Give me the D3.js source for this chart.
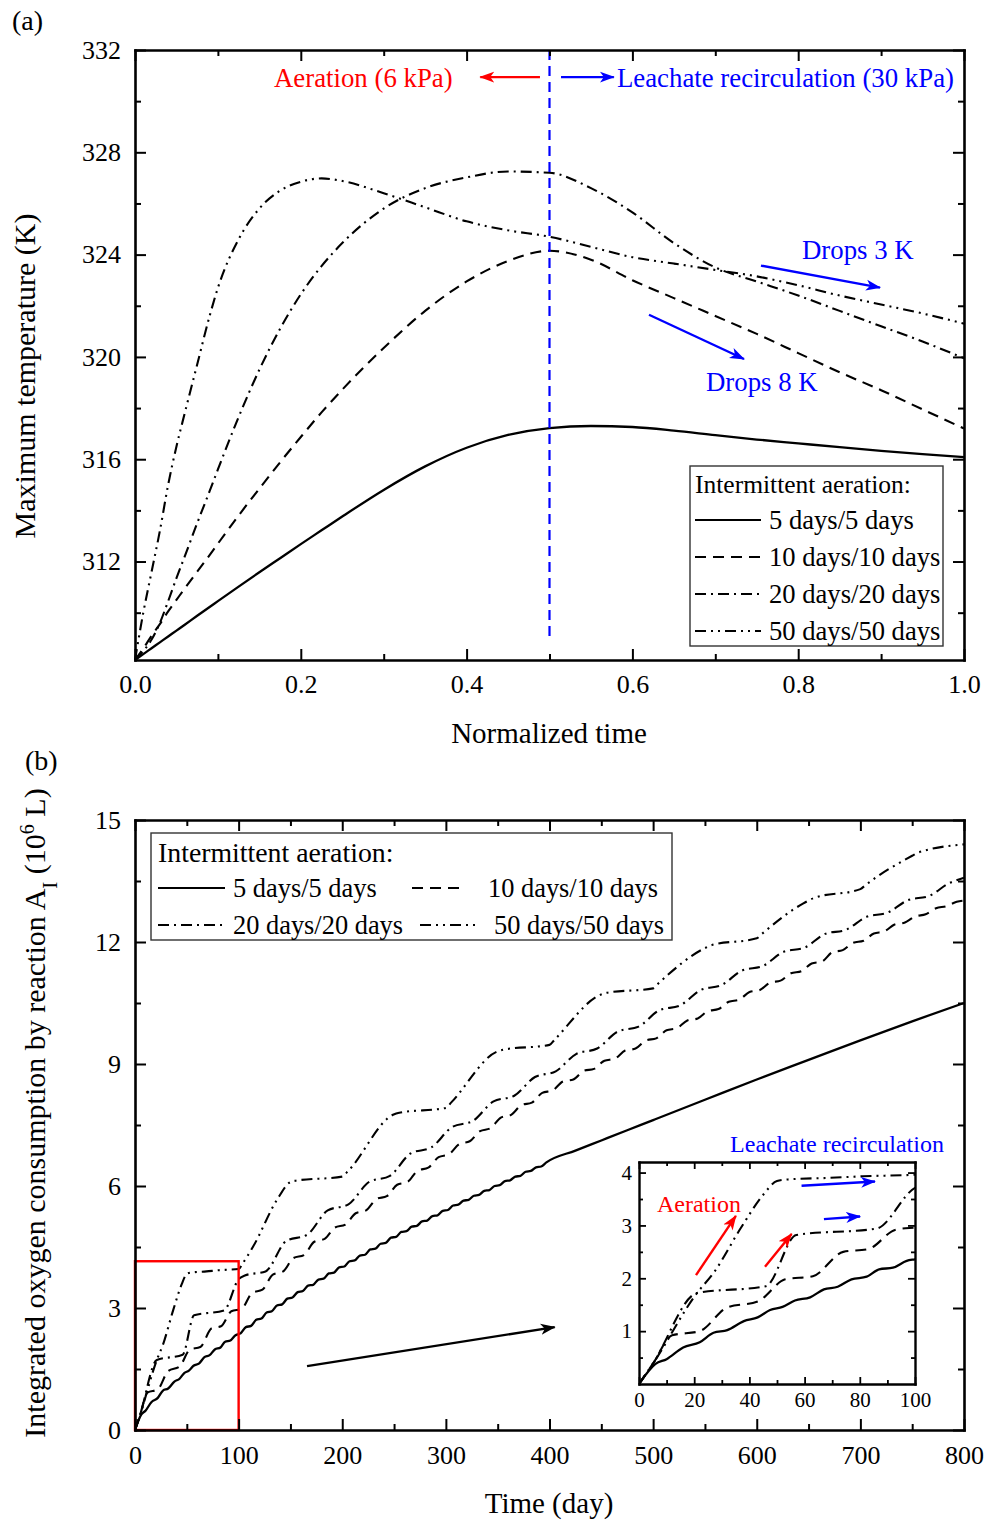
<!DOCTYPE html>
<html>
<head>
<meta charset="utf-8">
<script src="https://cdn.jsdelivr.net/npm/d3@7"></script>
<style>
body { margin: 0; background: #fff; }
svg text { font-family: "Liberation Serif", "Times New Roman", serif; }
</style>
</head>
<body>
<div id="chart-area"></div>
<script>
// ---- panel (a): maximum temperature vs normalized time ----
const normTime = [0, 0.01, 0.02, 0.03, 0.04, 0.05, 0.06, 0.075, 0.09, 0.1, 0.125, 0.15, 0.175, 0.2, 0.225, 0.25,
                  0.3, 0.35, 0.4, 0.45, 0.5, 0.55, 0.6, 0.65, 0.7, 0.75, 0.8, 0.85, 0.9, 0.95, 1.0];
const temp5  = [308.15, 308.38, 308.61, 308.84, 309.07, 309.3, 309.53, 309.88, 310.22, 310.45, 311.02, 311.58, 312.13, 312.68, 313.22, 313.76,
                314.8, 315.72, 316.45, 316.95, 317.22, 317.3, 317.26, 317.12, 316.94, 316.77, 316.62, 316.47, 316.33, 316.2, 316.08];
const temp10 = [308.15, 308.6, 309.1, 309.55, 310.05, 310.5, 310.95, 311.6, 312.25, 312.7, 313.8, 314.85, 315.88, 316.87, 317.83, 318.72,
                320.35, 321.8, 322.95, 323.75, 324.15, 323.8, 323.0, 322.3, 321.6, 320.9, 320.15, 319.4, 318.7, 317.95, 317.2];
const temp20 = [308.15, 308.5, 308.95, 309.6, 310.45, 311.35, 312.2, 313.5, 314.75, 315.6, 317.65, 319.5, 321.1, 322.45, 323.55, 324.45,
                325.8, 326.6, 327.02, 327.25, 327.2, 326.6, 325.65, 324.45, 323.5, 322.95, 322.4, 321.8, 321.2, 320.6, 319.95];
const temp50 = [308.15, 310.0, 311.6, 313.2, 315.0, 316.5, 317.8, 319.7, 321.6, 322.7, 324.6, 325.8, 326.5, 326.85, 326.98, 326.88,
                326.4, 325.85, 325.3, 324.95, 324.7, 324.3, 323.9, 323.65, 323.4, 323.15, 322.8, 322.4, 322.05, 321.7, 321.3];
const normTicks = [0, 0.2, 0.4, 0.6, 0.8, 1.0];
const normMinor = [0.1, 0.3, 0.5, 0.7, 0.9];
const tempTicks = [312, 316, 320, 324, 328, 332];
const tempMinor = [310, 314, 318, 322, 326, 330];

// ---- panel (b): integrated oxygen consumption vs time ----
const days5 = [0, 6, 10, 16, 22, 27, 32, 38, 43, 47.5, 52, 56.5, 62, 67, 72, 77, 82.5, 87, 92, 97, 100,
               102, 107, 112, 117, 122, 127, 132, 137, 142, 147, 152, 157, 162, 167, 172, 177, 182, 187, 192, 197,
               202, 207, 212, 217, 222, 227, 232, 237, 242, 247, 252, 257, 262, 267, 272, 277, 282, 287, 292, 297,
               302, 307, 312, 317, 322, 327, 332, 337, 342, 347, 352, 357, 362, 367, 372, 377, 382, 387, 392, 397,
               425, 450, 475, 500, 550, 600, 650, 700, 750, 800];
const oxy5  = [0, 0.38, 0.47, 0.69, 0.79, 0.97, 1.02, 1.19, 1.26, 1.4, 1.46, 1.58, 1.64, 1.79, 1.84, 1.98, 2.03, 2.17, 2.2, 2.33, 2.36,
               2.38, 2.53, 2.56, 2.71, 2.74, 2.89, 2.92, 3.06, 3.09, 3.23, 3.26, 3.39, 3.42, 3.55, 3.57, 3.7, 3.72, 3.85, 3.87, 4.0,
               4.02, 4.15, 4.17, 4.29, 4.31, 4.44, 4.46, 4.58, 4.6, 4.73, 4.75, 4.87, 4.89, 5.0, 5.02, 5.13, 5.15, 5.26, 5.28, 5.39,
               5.41, 5.52, 5.54, 5.64, 5.66, 5.76, 5.78, 5.88, 5.9, 6.0, 6.02, 6.12, 6.14, 6.23, 6.25, 6.35, 6.37, 6.46, 6.48, 6.58,
               6.87, 7.12, 7.37, 7.62, 8.12, 8.62, 9.1, 9.58, 10.05, 10.5];
const days10 = [0, 5, 12, 22, 32, 43, 53, 63, 74, 83, 93,
                103, 113, 123, 133, 143, 153, 163, 173, 183, 193, 203, 213, 223, 233, 243, 253, 263, 273, 283, 293,
                303, 313, 323, 333, 343, 353, 363, 373, 383, 393, 403, 413, 423, 433, 443, 453, 463, 473, 483, 493,
                503, 513, 523, 533, 543, 553, 563, 573, 583, 593, 603, 613, 623, 633, 643, 653, 663, 673, 683, 693,
                703, 713, 723, 733, 743, 753, 763, 773, 783, 793, 800];
const oxy10  = [0, 0.38, 0.92, 1.0, 1.45, 1.56, 1.98, 2.04, 2.5, 2.55, 2.92,
                2.98, 3.37, 3.45, 3.82, 3.9, 4.23, 4.3, 4.63, 4.7, 4.98, 5.05, 5.33, 5.4, 5.68, 5.75, 6.03, 6.1, 6.38, 6.45, 6.71,
                6.78, 7.03, 7.1, 7.35, 7.42, 7.68, 7.75, 7.99, 8.05, 8.29, 8.35, 8.57, 8.62, 8.83, 8.88, 9.08, 9.13, 9.33, 9.38, 9.58,
                9.63, 9.83, 9.88, 10.07, 10.12, 10.3, 10.35, 10.53, 10.58, 10.77, 10.82, 11.0, 11.05, 11.23, 11.28, 11.47, 11.52, 11.75, 11.8, 11.98,
                12.03, 12.21, 12.26, 12.43, 12.48, 12.63, 12.68, 12.83, 12.88, 12.99, 13.02];
const days20 = [0, 5, 21, 46, 57, 86, 100, 106, 126, 146, 166, 186, 206, 226, 246, 266, 286, 306, 326, 346, 366,
                386, 406, 426, 446, 466, 486, 506, 526, 546, 566, 586, 606, 626, 646, 666, 686, 706, 726, 746, 766, 786, 800];
const oxy20  = [0, 0.38, 1.72, 1.85, 2.82, 2.94, 3.71, 3.8, 3.9, 4.65, 4.8, 5.4, 5.55, 6.1, 6.25, 6.8, 6.95, 7.45, 7.6, 8.08, 8.22,
                8.68, 8.82, 9.25, 9.38, 9.8, 9.92, 10.32, 10.44, 10.82, 10.94, 11.3, 11.41, 11.76, 11.86, 12.2, 12.3, 12.62, 12.72, 13.03, 13.13, 13.45, 13.58];
const days50 = [0, 5, 21, 27, 37, 45, 50, 54, 69, 81, 100, 104, 114, 137, 150, 155, 200, 205, 249, 255, 300,
                305, 349, 355, 400, 405, 449, 455, 500, 505, 550, 556, 600, 605, 645, 655, 700, 705, 750, 756, 800];
const oxy50  = [0, 0.38, 1.72, 2.1, 2.96, 3.58, 3.84, 3.87, 3.9, 3.93, 3.96, 4.1, 4.51, 5.66, 6.1, 6.13, 6.23, 6.35, 7.75, 7.8, 7.92,
                8.05, 9.3, 9.35, 9.47, 9.6, 10.7, 10.75, 10.86, 10.98, 11.85, 11.92, 12.09, 12.2, 12.95, 13.08, 13.3, 13.4, 14.12, 14.2, 14.4];
const dayTicks = [0, 100, 200, 300, 400, 500, 600, 700, 800];
const dayMinor = [50, 150, 250, 350, 450, 550, 650, 750];
const oxyTicks = [0, 3, 6, 9, 12, 15];
const oxyMinor = [1.5, 4.5, 7.5, 10.5, 13.5];
const insetDayTicks = [0, 20, 40, 60, 80, 100];
const insetDayMinor = [10, 30, 50, 70, 90];
const insetOxyTicks = [1, 2, 3, 4];
const insetOxyMinor = [0.5, 1.5, 2.5, 3.5];
const zoomBox = [100, 4.15];   // days, 10^6 L

const seriesNames = ["5 days/5 days", "10 days/10 days", "20 days/20 days", "50 days/50 days"];
const dashes = [null, "11,7", "11,5,2,5", "11,5,2,5,2,5"];

const W = 829, H = 610;
const serif = "'Liberation Serif', 'Times New Roman', serif";

const svg = d3.select("#chart-area").append("svg")
    .attr("width", 999).attr("height", 1520);

// arrow heads
const defs = svg.append("defs");
[["red", "#ff0000"], ["blue", "#0000ff"], ["black", "#000"]].forEach(([id, c]) => {
    defs.append("marker")
        .attr("id", "arrow-" + id)
        .attr("markerUnits", "userSpaceOnUse")
        .attr("markerWidth", 16).attr("markerHeight", 12)
        .attr("refX", 14).attr("refY", 6)
        .attr("orient", "auto")
      .append("path")
        .attr("d", "M0,0.5 L15,6 L0,11.5 L4,6 Z")
        .attr("fill", c);
});

function drawFrame(g, x, y, o) {
    const w = x.range()[1], h = y.range()[0];
    const sides = [
        [d3.axisBottom, "translate(0," + h + ")", x, o.xMajor, o.xMinor, o.xFmt, o.xPad],
        [d3.axisTop, "translate(0,0)", x, o.xMajor, o.xMinor, null, 0],
        [d3.axisLeft, "translate(0,0)", y, o.yMajor, o.yMinor, o.yFmt, o.yPad],
        [d3.axisRight, "translate(" + w + ",0)", y, o.yMajor, o.yMinor, null, 0]
    ];
    sides.forEach(([mk, tr, sc, major, minor, fmt, pad]) => {
        g.append("g")
            .attr("transform", tr)
            .call(mk(sc).tickValues(minor).tickSize(-o.minorLen).tickFormat(""))
            .call(a => a.select(".domain").remove())
            .selectAll(".tick line").attr("stroke-width", o.tickW);
        const ax = g.append("g")
            .attr("transform", tr)
            .call(mk(sc).tickValues(major).tickSizeInner(-o.majorLen).tickSizeOuter(0)
                .tickPadding(pad).tickFormat(fmt || ""));
        ax.attr("font-size", o.fs).attr("font-family", serif);
        ax.selectAll("text").style("font-size", o.fs + "px");
        ax.selectAll(".tick line").attr("stroke-width", o.tickW);
        ax.select(".domain").attr("stroke-width", o.domW).attr("stroke-linecap", "square");
    });
}

// ================= panel (a) =================
const gA = svg.append("g").attr("transform", "translate(135,50)");
const xA = d3.scaleLinear().domain([0, 1]).range([0, W]);
const yA = d3.scaleLinear().domain([308.15, 332]).range([H, 0]);

const lineA = d3.line()
    .x(d => xA(d[0]))
    .y(d => yA(d[1]))
    .curve(d3.curveMonotoneX);

[temp5, temp10, temp20, temp50].forEach((s, i) => {
    gA.append("path")
        .datum(d3.zip(normTime, s))
        .attr("d", lineA)
        .attr("fill", "none")
        .attr("stroke", "#000")
        .attr("stroke-width", i == 0 ? 2.3 : 2.1)
        .attr("stroke-dasharray", dashes[i]);
});

// switch from aeration to leachate recirculation
gA.append("line")
    .attr("x1", xA(0.5)).attr("x2", xA(0.5))
    .attr("y1", yA(332)).attr("y2", yA(308.9))
    .attr("stroke", "#0000ff")
    .attr("stroke-width", 2.2)
    .attr("stroke-dasharray", "10,6");

function arrow(g, x, y, p1, p2, color, sw) {
    g.append("line")
        .attr("x1", x(p1[0])).attr("y1", y(p1[1]))
        .attr("x2", x(p2[0])).attr("y2", y(p2[1]))
        .attr("stroke", color == "red" ? "#ff0000" : color == "blue" ? "#0000ff" : "#000")
        .attr("stroke-width", sw || 2.4)
        .attr("marker-end", "url(#arrow-" + color + ")");
}
function label(g, x, y, p, txt, color, fs) {
    g.append("text")
        .attr("x", x(p[0])).attr("y", y(p[1]))
        .attr("fill", color)
        .attr("font-size", fs + "px")
        .text(txt);
}

label(gA, xA, yA, [0.1677, 330.55], "Aeration (6 kPa)", "#ff0000", 26.8);
label(gA, xA, yA, [0.5814, 330.55], "Leachate recirculation (30 kPa)", "#0000ff", 26.8);
label(gA, xA, yA, [0.8046, 323.84], "Drops 3 K", "#0000ff", 26.8);
label(gA, xA, yA, [0.6888, 318.67], "Drops 8 K", "#0000ff", 26.8);
arrow(gA, xA, yA, [0.4885, 330.94], [0.4165, 330.94], "red");
arrow(gA, xA, yA, [0.5139, 330.94], [0.5776, 330.94], "blue");
arrow(gA, xA, yA, [0.7551, 323.57], [0.8987, 322.71], "blue");
arrow(gA, xA, yA, [0.62, 321.65], [0.7346, 319.92], "blue");

drawFrame(gA, xA, yA, {
    xMajor: normTicks, xMinor: normMinor, yMajor: tempTicks, yMinor: tempMinor,
    xFmt: d3.format(".1f"), yFmt: d3.format("d"),
    xPad: 15, yPad: 14, majorLen: 11, minorLen: 6, fs: 26, tickW: 2, domW: 2.6
});

// legend (a)
const legA = svg.append("g");
legA.append("rect")
    .attr("x", 690).attr("y", 466).attr("width", 253).attr("height", 180)
    .attr("fill", "#fff").attr("stroke", "#333").attr("stroke-width", 1.4);
legA.append("text").attr("x", 695).attr("y", 493).attr("font-size", "25.5px").text("Intermittent aeration:");
seriesNames.forEach((n, i) => {
    const yy = 529 + i * 37;
    legA.append("line")
        .attr("x1", 695).attr("x2", 761).attr("y1", yy - 9).attr("y2", yy - 9)
        .attr("stroke", "#000").attr("stroke-width", 2.2)
        .attr("stroke-dasharray", dashes[i]);
    legA.append("text").attr("x", 769).attr("y", yy).attr("font-size", "26.6px").text(n);
});

svg.append("text").attr("x", 549).attr("y", 743)
    .attr("text-anchor", "middle").attr("font-size", "29px").text("Normalized time");
svg.append("text")
    .attr("transform", "rotate(-90)")
    .attr("x", -376).attr("y", 35)
    .attr("text-anchor", "middle").attr("font-size", "30px")
    .text("Maximum temperature (K)");
svg.append("text").attr("x", 12).attr("y", 30).attr("font-size", "28px").text("(a)");

// ================= panel (b) =================
const gB = svg.append("g").attr("transform", "translate(135,820)");
const xB = d3.scaleLinear().domain([0, 800]).range([0, W]);
const yB = d3.scaleLinear().domain([0, 15]).range([H, 0]);

const oxySeries = [[days5, oxy5], [days10, oxy10], [days20, oxy20], [days50, oxy50]];

function drawSeries(g, x, y) {
    const line = d3.line()
        .x(d => x(d[0]))
        .y(d => y(d[1]))
        .curve(d3.curveMonotoneX);
    oxySeries.forEach(([t, v], i) => {
        g.append("path")
            .datum(d3.zip(t, v))
            .attr("d", line)
            .attr("fill", "none")
            .attr("stroke", "#000")
            .attr("stroke-width", i == 0 ? 2.3 : 2.1)
            .attr("stroke-dasharray", dashes[i]);
    });
}
drawSeries(gB, xB, yB);

// zoom window
gB.append("rect")
    .attr("x", xB(0)).attr("y", yB(zoomBox[1]))
    .attr("width", xB(zoomBox[0]) - xB(0))
    .attr("height", yB(0) - yB(zoomBox[1]))
    .attr("fill", "none").attr("stroke", "#ff0000").attr("stroke-width", 2.4);

arrow(gB, xB, yB, [166, 1.57], [405, 2.53], "black", 2.4);

drawFrame(gB, xB, yB, {
    xMajor: dayTicks, xMinor: dayMinor, yMajor: oxyTicks, yMinor: oxyMinor,
    xFmt: d3.format("d"), yFmt: d3.format("d"),
    xPad: 16, yPad: 14, majorLen: 11, minorLen: 6, fs: 26, tickW: 2, domW: 2.6
});

// legend (b)
const legB = svg.append("g");
legB.append("rect")
    .attr("x", 151).attr("y", 833).attr("width", 521).attr("height", 107)
    .attr("fill", "#fff").attr("stroke", "#333").attr("stroke-width", 1.4);
legB.append("text").attr("x", 158).attr("y", 862).attr("font-size", "27.8px").text("Intermittent aeration:");
const legBpos = [[158, 225, 233, 897], [412, 466, 488, 897], [158, 225, 233, 934], [420, 478, 494, 934]];
seriesNames.forEach((n, i) => {
    const [l1, l2, tx, yy] = legBpos[i];
    legB.append("line")
        .attr("x1", l1).attr("x2", l2).attr("y1", yy - 9).attr("y2", yy - 9)
        .attr("stroke", "#000").attr("stroke-width", 2.2)
        .attr("stroke-dasharray", dashes[i]);
    legB.append("text").attr("x", tx).attr("y", yy).attr("font-size", "26.4px").text(n);
});

svg.append("text").attr("x", 549).attr("y", 1513)
    .attr("text-anchor", "middle").attr("font-size", "29px").text("Time (day)");
const yTitleB = svg.append("text")
    .attr("transform", "rotate(-90)")
    .attr("x", -1113).attr("y", 45)
    .attr("text-anchor", "middle").attr("font-size", "30px");
yTitleB.append("tspan").text("Integrated oxygen consumption by reaction A");
yTitleB.append("tspan").attr("baseline-shift", "sub").attr("font-size", "21px").text("I");
yTitleB.append("tspan").text(" (10");
yTitleB.append("tspan").attr("baseline-shift", "super").attr("font-size", "20px").text("6");
yTitleB.append("tspan").text(" L)");
svg.append("text").attr("x", 25).attr("y", 770).attr("font-size", "28px").text("(b)");

// ---- inset: first 100 days ----
const IW = 276, IH = 222;
const gI = svg.append("g").attr("transform", "translate(639,1162)");
const xI = d3.scaleLinear().domain([0, 100]).range([0, IW]);
const yI = d3.scaleLinear().domain([0, 4.2]).range([IH, 0]);

gI.append("rect").attr("width", IW).attr("height", IH).attr("fill", "#fff");
defs.append("clipPath").attr("id", "inset-clip")
  .append("rect").attr("width", IW).attr("height", IH);
const gIc = gI.append("g").attr("clip-path", "url(#inset-clip)");
drawSeries(gIc, xI, yI);

arrow(gI, xI, yI, [20.65, 2.06], [35.1, 3.18], "red", 2.4);
arrow(gI, xI, yI, [45.65, 2.22], [55.3, 2.84], "red", 2.4);
arrow(gI, xI, yI, [58.9, 3.75], [85.5, 3.83], "blue", 2.4);
arrow(gI, xI, yI, [67.0, 3.12], [80.1, 3.17], "blue", 2.4);
label(gI, xI, yI, [6.5, 3.25], "Aeration", "#ff0000", 24);
label(gI, xI, yI, [33.0, 4.39], "Leachate recirculation", "#0000ff", 24);

drawFrame(gI, xI, yI, {
    xMajor: insetDayTicks, xMinor: insetDayMinor, yMajor: insetOxyTicks, yMinor: insetOxyMinor,
    xFmt: d3.format("d"), yFmt: d3.format("d"),
    xPad: 8, yPad: 7, majorLen: 7, minorLen: 4, fs: 21, tickW: 1.8, domW: 2.4
});
</script>
</body>
</html>
